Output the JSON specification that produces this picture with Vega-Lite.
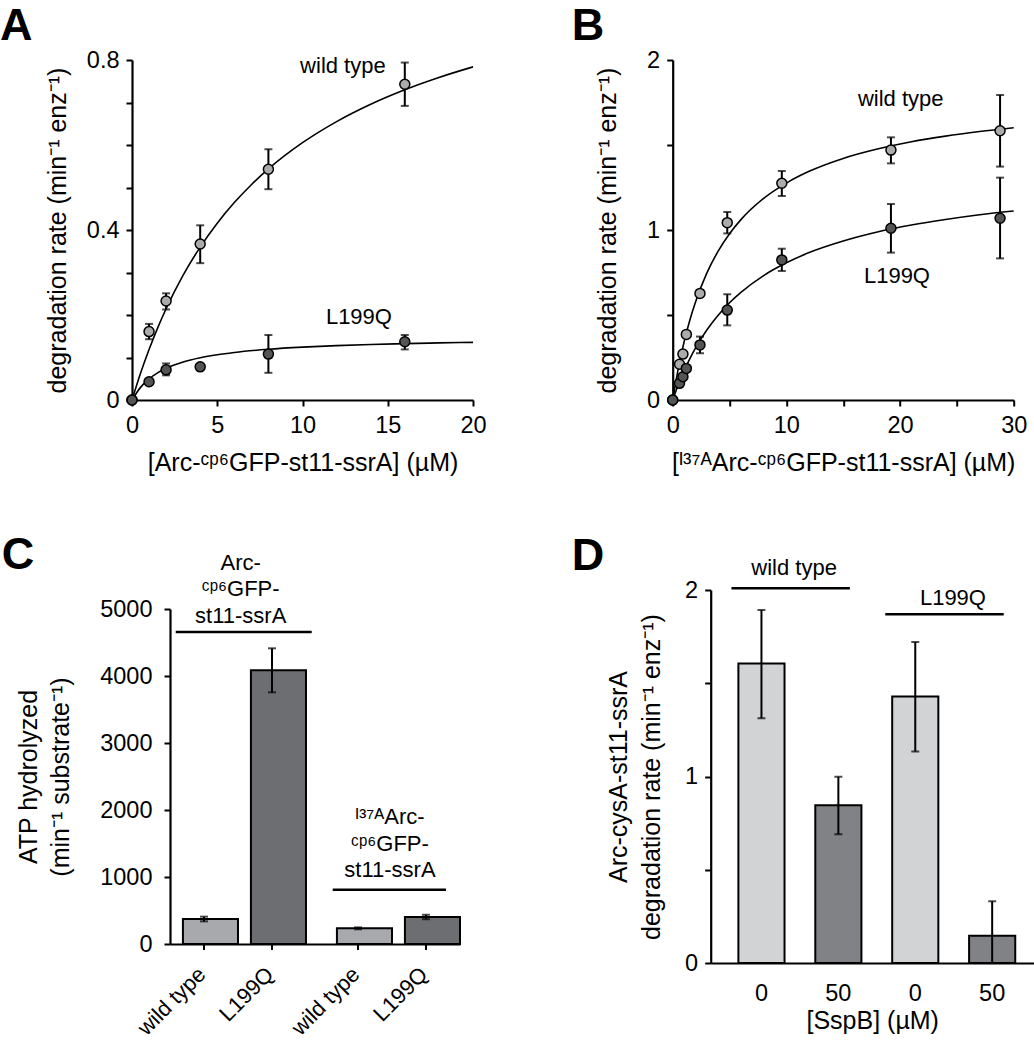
{
"$schema": "https://vega.github.io/schema/vega-lite/v6.json",
"padding": {"top": 4, "left": 0, "right": 0, "bottom": 0},
"background": "white",
"config": {
  "font": "Liberation Sans",
  "view": {"stroke": null},
  "axis": {"domainColor": "black", "domainWidth": 2.2, "tickColor": "black", "tickWidth": 2, "tickSize": 6, "labelFont": "Liberation Sans", "labelFontSize": 23.5, "labelColor": "black", "titleFont": "Liberation Sans", "titleFontSize": 25, "titleFontWeight": "normal", "titleColor": "black", "grid": false, "labelFlush": false, "labelOverlap": false, "labelPadding": 7},
  "title": {"font": "Liberation Sans", "fontSize": 45, "fontWeight": "bold", "color": "black", "anchor": "start", "frame": "group", "baseline": "alphabetic"},
  "text": {"font": "Liberation Sans", "fontSize": 22, "color": "black"}
},
"datasets": {
  "curveA": [
    {"variant": "wild type", "conc": 0, "rate": 0}, {"variant": "wild type", "conc": 0.5, "rate": 0.0628}, {"variant": "wild type", "conc": 1, "rate": 0.1188}, {"variant": "wild type", "conc": 1.5, "rate": 0.1692}, {"variant": "wild type", "conc": 2, "rate": 0.2147}, {"variant": "wild type", "conc": 3, "rate": 0.2937}, {"variant": "wild type", "conc": 4, "rate": 0.3598}, {"variant": "wild type", "conc": 5, "rate": 0.4161}, {"variant": "wild type", "conc": 6, "rate": 0.4645}, {"variant": "wild type", "conc": 7, "rate": 0.5066}, {"variant": "wild type", "conc": 8, "rate": 0.5436}, {"variant": "wild type", "conc": 10, "rate": 0.6054}, {"variant": "wild type", "conc": 12, "rate": 0.6551}, {"variant": "wild type", "conc": 14, "rate": 0.6959}, {"variant": "wild type", "conc": 16, "rate": 0.73}, {"variant": "wild type", "conc": 18, "rate": 0.7589}, {"variant": "wild type", "conc": 20, "rate": 0.7838},
    {"variant": "L199Q", "conc": 0, "rate": 0}, {"variant": "L199Q", "conc": 0.5, "rate": 0.0297}, {"variant": "L199Q", "conc": 1, "rate": 0.0496}, {"variant": "L199Q", "conc": 1.5, "rate": 0.0638}, {"variant": "L199Q", "conc": 2, "rate": 0.0745}, {"variant": "L199Q", "conc": 3, "rate": 0.0894}, {"variant": "L199Q", "conc": 4, "rate": 0.0994}, {"variant": "L199Q", "conc": 5, "rate": 0.1065}, {"variant": "L199Q", "conc": 6, "rate": 0.1118}, {"variant": "L199Q", "conc": 8, "rate": 0.1193}, {"variant": "L199Q", "conc": 10, "rate": 0.1243}, {"variant": "L199Q", "conc": 12, "rate": 0.1279}, {"variant": "L199Q", "conc": 14, "rate": 0.1306}, {"variant": "L199Q", "conc": 16, "rate": 0.1326}, {"variant": "L199Q", "conc": 18, "rate": 0.1343}, {"variant": "L199Q", "conc": 20, "rate": 0.1357}
  ],
  "pointsA": [
    {"variant": "wild type", "conc": 0, "rate": 0, "lo": 0, "hi": 0}, {"variant": "wild type", "conc": 1, "rate": 0.161, "lo": 0.143, "hi": 0.179}, {"variant": "wild type", "conc": 2, "rate": 0.233, "lo": 0.213, "hi": 0.251}, {"variant": "wild type", "conc": 4, "rate": 0.367, "lo": 0.322, "hi": 0.411}, {"variant": "wild type", "conc": 8, "rate": 0.543, "lo": 0.496, "hi": 0.59}, {"variant": "wild type", "conc": 16, "rate": 0.743, "lo": 0.692, "hi": 0.794},
    {"variant": "L199Q", "conc": 0, "rate": 0, "lo": 0, "hi": 0}, {"variant": "L199Q", "conc": 1, "rate": 0.043, "lo": 0.043, "hi": 0.043}, {"variant": "L199Q", "conc": 2, "rate": 0.071, "lo": 0.058, "hi": 0.086}, {"variant": "L199Q", "conc": 4, "rate": 0.078, "lo": 0.078, "hi": 0.078}, {"variant": "L199Q", "conc": 8, "rate": 0.108, "lo": 0.064, "hi": 0.153}, {"variant": "L199Q", "conc": 16, "rate": 0.137, "lo": 0.119, "hi": 0.153}
  ],
  "curveB": [
    {"variant": "wild type", "conc": 0, "rate": 0}, {"variant": "wild type", "conc": 0.5, "rate": 0.188}, {"variant": "wild type", "conc": 1, "rate": 0.341}, {"variant": "wild type", "conc": 1.5, "rate": 0.468}, {"variant": "wild type", "conc": 2, "rate": 0.575}, {"variant": "wild type", "conc": 3, "rate": 0.746}, {"variant": "wild type", "conc": 4, "rate": 0.876}, {"variant": "wild type", "conc": 5, "rate": 0.978}, {"variant": "wild type", "conc": 6, "rate": 1.061}, {"variant": "wild type", "conc": 8, "rate": 1.186}, {"variant": "wild type", "conc": 10, "rate": 1.276}, {"variant": "wild type", "conc": 12, "rate": 1.345}, {"variant": "wild type", "conc": 15, "rate": 1.421}, {"variant": "wild type", "conc": 18, "rate": 1.476}, {"variant": "wild type", "conc": 21, "rate": 1.519}, {"variant": "wild type", "conc": 24, "rate": 1.552}, {"variant": "wild type", "conc": 27, "rate": 1.579}, {"variant": "wild type", "conc": 30, "rate": 1.602},
    {"variant": "L199Q", "conc": 0, "rate": 0}, {"variant": "L199Q", "conc": 0.5, "rate": 0.0915}, {"variant": "L199Q", "conc": 1, "rate": 0.1715}, {"variant": "L199Q", "conc": 1.5, "rate": 0.242}, {"variant": "L199Q", "conc": 2, "rate": 0.305}, {"variant": "L199Q", "conc": 3, "rate": 0.412}, {"variant": "L199Q", "conc": 4, "rate": 0.499}, {"variant": "L199Q", "conc": 5, "rate": 0.572}, {"variant": "L199Q", "conc": 6, "rate": 0.633}, {"variant": "L199Q", "conc": 8, "rate": 0.732}, {"variant": "L199Q", "conc": 10, "rate": 0.807}, {"variant": "L199Q", "conc": 12, "rate": 0.867}, {"variant": "L199Q", "conc": 15, "rate": 0.935}, {"variant": "L199Q", "conc": 18, "rate": 0.988}, {"variant": "L199Q", "conc": 21, "rate": 1.029}, {"variant": "L199Q", "conc": 24, "rate": 1.062}, {"variant": "L199Q", "conc": 27, "rate": 1.09}, {"variant": "L199Q", "conc": 30, "rate": 1.112}
  ],
  "pointsB": [
    {"variant": "wild type", "conc": 0, "rate": 0, "lo": 0, "hi": 0}, {"variant": "wild type", "conc": 0.6, "rate": 0.21, "lo": 0.21, "hi": 0.21}, {"variant": "wild type", "conc": 0.9, "rate": 0.27, "lo": 0.27, "hi": 0.27}, {"variant": "wild type", "conc": 1.2, "rate": 0.386, "lo": 0.386, "hi": 0.386}, {"variant": "wild type", "conc": 2.4, "rate": 0.627, "lo": 0.607, "hi": 0.647}, {"variant": "wild type", "conc": 4.8, "rate": 1.043, "lo": 0.98, "hi": 1.106}, {"variant": "wild type", "conc": 9.6, "rate": 1.275, "lo": 1.2, "hi": 1.347}, {"variant": "wild type", "conc": 19.2, "rate": 1.47, "lo": 1.392, "hi": 1.545}, {"variant": "wild type", "conc": 28.8, "rate": 1.584, "lo": 1.373, "hi": 1.794},
    {"variant": "L199Q", "conc": 0, "rate": 0, "lo": 0, "hi": 0}, {"variant": "L199Q", "conc": 0.6, "rate": 0.098, "lo": 0.098, "hi": 0.098}, {"variant": "L199Q", "conc": 0.9, "rate": 0.137, "lo": 0.137, "hi": 0.137}, {"variant": "L199Q", "conc": 1.2, "rate": 0.186, "lo": 0.186, "hi": 0.186}, {"variant": "L199Q", "conc": 2.4, "rate": 0.324, "lo": 0.275, "hi": 0.373}, {"variant": "L199Q", "conc": 4.8, "rate": 0.529, "lo": 0.439, "hi": 0.622}, {"variant": "L199Q", "conc": 9.6, "rate": 0.824, "lo": 0.759, "hi": 0.89}, {"variant": "L199Q", "conc": 19.2, "rate": 1.01, "lo": 0.867, "hi": 1.153}, {"variant": "L199Q", "conc": 28.8, "rate": 1.069, "lo": 0.833, "hi": 1.308}
  ],
  "barsC": [
    {"construct": "Arc", "variant": "wild type", "rate": 373, "lo": 338, "hi": 408},
    {"construct": "Arc", "variant": "L199Q", "rate": 4085, "lo": 3756, "hi": 4413},
    {"construct": "I37A", "variant": "wild type", "rate": 234, "lo": 220, "hi": 248},
    {"construct": "I37A", "variant": "L199Q", "rate": 403, "lo": 370, "hi": 436}
  ],
  "barsD": [
    {"bar": "wild type|0", "genotype": "wild type", "sspb": 0, "rate": 1.606, "lo": 1.313, "hi": 1.893},
    {"bar": "wild type|50", "genotype": "wild type", "sspb": 50, "rate": 0.846, "lo": 0.691, "hi": 0.998},
    {"bar": "L199Q|0", "genotype": "L199Q", "sspb": 0, "rate": 1.429, "lo": 1.134, "hi": 1.721},
    {"bar": "L199Q|50", "genotype": "L199Q", "sspb": 50, "rate": 0.146, "lo": -0.039, "hi": 0.331}
  ]
},
"spacing": 57,
"vconcat": [
  {
    "bounds": "flush",
    "spacing": 199.7,
    "hconcat": [
      {
        "width": 341, "height": 340,
        "title": {"text": "A", "dx": -132, "offset": -1},
        "layer": [
          {"data": {"name": "curveA"}, "mark": {"type": "line", "color": "black", "strokeWidth": 1.6, "interpolate": "monotone"},
           "encoding": {
             "x": {"field": "conc", "type": "quantitative", "scale": {"domain": [0, 20], "nice": false}, "axis": {"values": [0, 5, 10, 15, 20], "title": "[Arc-ᶜᵖ⁶GFP-st11-ssrA] (µM)", "titlePadding": 14}},
             "y": {"field": "rate", "type": "quantitative", "scale": {"domain": [0, 0.8], "nice": false}, "axis": {"values": [0, 0.1, 0.2, 0.3, 0.4, 0.5, 0.6, 0.7, 0.8], "format": "~g", "labelExpr": "datum.value == 0 || datum.value == 0.4 || datum.value == 0.8 ? datum.label : ''", "title": "degradation rate (min⁻¹ enz⁻¹)", "titlePadding": 16}},
             "detail": {"field": "variant"}}},
          {"data": {"name": "pointsA"}, "mark": {"type": "rule", "color": "black", "strokeWidth": 2},
           "encoding": {"x": {"field": "conc", "type": "quantitative"}, "y": {"field": "lo", "type": "quantitative"}, "y2": {"field": "hi"}}},
          {"data": {"name": "pointsA"}, "mark": {"type": "tick", "orient": "horizontal", "color": "black", "size": 8, "thickness": 2},
           "encoding": {"x": {"field": "conc", "type": "quantitative"}, "y": {"field": "hi", "type": "quantitative"}}},
          {"data": {"name": "pointsA"}, "mark": {"type": "tick", "orient": "horizontal", "color": "black", "size": 8, "thickness": 2},
           "encoding": {"x": {"field": "conc", "type": "quantitative"}, "y": {"field": "lo", "type": "quantitative"}}},
          {"data": {"name": "pointsA"}, "mark": {"type": "circle", "size": 100, "stroke": "black", "strokeWidth": 1.5, "opacity": 1},
           "encoding": {"x": {"field": "conc", "type": "quantitative"}, "y": {"field": "rate", "type": "quantitative"},
             "fill": {"condition": {"test": "datum.variant == 'wild type'", "value": "#ababab"}, "value": "#545454"}}},
          {"data": {"values": [{}]}, "mark": {"type": "text", "align": "center", "baseline": "alphabetic"}, "encoding": {"x": {"datum": 12.37}, "y": {"datum": 0.769}, "text": {"value": "wild type"}}},
          {"data": {"values": [{}]}, "mark": {"type": "text", "align": "center", "baseline": "alphabetic"}, "encoding": {"x": {"datum": 13.31}, "y": {"datum": 0.18}, "text": {"value": "L199Q"}}}
        ]
      },
      {
        "width": 341, "height": 340,
        "title": {"text": "B", "dx": -101, "offset": -1},
        "layer": [
          {"data": {"name": "curveB"}, "mark": {"type": "line", "color": "black", "strokeWidth": 1.6, "interpolate": "monotone"},
           "encoding": {
             "x": {"field": "conc", "type": "quantitative", "scale": {"domain": [0, 30], "nice": false}, "axis": {"values": [0, 5, 10, 15, 20, 25, 30], "labelExpr": "datum.value % 10 == 0 ? datum.label : ''", "title": "[ᴵ³⁷ᴬArc-ᶜᵖ⁶GFP-st11-ssrA] (µM)", "titlePadding": 14}},
             "y": {"field": "rate", "type": "quantitative", "scale": {"domain": [0, 2], "nice": false}, "axis": {"values": [0, 0.5, 1, 1.5, 2], "format": "~g", "labelExpr": "datum.value % 1 == 0 ? datum.label : ''", "title": "degradation rate (min⁻¹ enz⁻¹)", "titlePadding": 26}},
             "detail": {"field": "variant"}}},
          {"data": {"name": "pointsB"}, "mark": {"type": "rule", "color": "black", "strokeWidth": 2},
           "encoding": {"x": {"field": "conc", "type": "quantitative"}, "y": {"field": "lo", "type": "quantitative"}, "y2": {"field": "hi"}}},
          {"data": {"name": "pointsB"}, "mark": {"type": "tick", "orient": "horizontal", "color": "black", "size": 8, "thickness": 2},
           "encoding": {"x": {"field": "conc", "type": "quantitative"}, "y": {"field": "hi", "type": "quantitative"}}},
          {"data": {"name": "pointsB"}, "mark": {"type": "tick", "orient": "horizontal", "color": "black", "size": 8, "thickness": 2},
           "encoding": {"x": {"field": "conc", "type": "quantitative"}, "y": {"field": "lo", "type": "quantitative"}}},
          {"data": {"name": "pointsB"}, "mark": {"type": "circle", "size": 100, "stroke": "black", "strokeWidth": 1.5, "opacity": 1},
           "encoding": {"x": {"field": "conc", "type": "quantitative"}, "y": {"field": "rate", "type": "quantitative"},
             "fill": {"condition": {"test": "datum.variant == 'wild type'", "value": "#ababab"}, "value": "#545454"}}},
          {"data": {"values": [{}]}, "mark": {"type": "text", "align": "center", "baseline": "alphabetic"}, "encoding": {"x": {"datum": 20.06}, "y": {"datum": 1.73}, "text": {"value": "wild type"}}},
          {"data": {"values": [{}]}, "mark": {"type": "text", "align": "center", "baseline": "alphabetic"}, "encoding": {"x": {"datum": 19.73}, "y": {"datum": 0.69}, "text": {"value": "L199Q"}}}
        ]
      }
    ]
  },
  {
    "bounds": "flush",
    "center": true,
    "spacing": 250.7,
    "hconcat": [
      {
        "width": 328, "height": 335,
        "title": {"text": "C", "dx": -130.3, "offset": -26.5},
        "layer": [
          {"data": {"name": "barsC"}, "mark": {"type": "bar", "stroke": "black", "strokeWidth": 2, "width": {"band": 0.81}},
           "encoding": {
             "x": {"field": "construct", "type": "nominal", "scale": {"domain": ["Arc", "I37A"], "range": [38, 328], "paddingInner": 0.117, "paddingOuter": 0}, "axis": {"labels": false, "title": null, "ticks": false}},
             "xOffset": {"field": "variant", "type": "nominal", "scale": {"domain": ["wild type", "L199Q"], "paddingInner": 0, "paddingOuter": 0}},
             "y": {"field": "rate", "type": "quantitative", "scale": {"domain": [0, 5000], "nice": false}, "axis": {"offset": -38, "values": [0, 1000, 2000, 3000, 4000, 5000], "format": "d", "labelPadding": 12, "title": ["ATP hydrolyzed", "(min⁻¹ substrate⁻¹)"], "titleLineHeight": 32, "titlePadding": 26}},
             "fill": {"condition": {"test": "datum.variant == 'wild type'", "value": "#a7a9ac"}, "value": "#6d6e71"}}},
          {"data": {"name": "barsC"}, "mark": {"type": "rule", "color": "black", "strokeWidth": 2},
           "encoding": {"x": {"field": "construct", "type": "nominal", "bandPosition": 0}, "xOffset": {"field": "variant", "type": "nominal"}, "y": {"datum": 0}, "y2": {"datum": -90}}},
          {"data": {"name": "barsC"}, "transform": [{"filter": "datum.variant == 'L199Q'"}], "mark": {"type": "rule", "color": "black", "strokeWidth": 2},
           "encoding": {"x": {"field": "construct", "type": "nominal", "bandPosition": 1}, "xOffset": {"field": "variant", "type": "nominal"}, "y": {"datum": 0}, "y2": {"datum": -90}}},
          {"data": {"name": "barsC"}, "mark": {"type": "rule", "color": "black", "strokeWidth": 2},
           "encoding": {"x": {"field": "construct", "type": "nominal"}, "xOffset": {"field": "variant", "type": "nominal"}, "y": {"field": "lo", "type": "quantitative"}, "y2": {"field": "hi"}}},
          {"data": {"name": "barsC"}, "mark": {"type": "tick", "orient": "horizontal", "color": "black", "size": 8, "thickness": 2},
           "encoding": {"x": {"field": "construct", "type": "nominal"}, "xOffset": {"field": "variant", "type": "nominal"}, "y": {"field": "hi", "type": "quantitative"}}},
          {"data": {"name": "barsC"}, "mark": {"type": "tick", "orient": "horizontal", "color": "black", "size": 8, "thickness": 2},
           "encoding": {"x": {"field": "construct", "type": "nominal"}, "xOffset": {"field": "variant", "type": "nominal"}, "y": {"field": "lo", "type": "quantitative"}}},
          {"data": {"name": "barsC"}, "mark": {"type": "text", "align": "right", "baseline": "middle", "dx": -20.5, "dy": 17.7, "fontSize": 22},
           "encoding": {"x": {"field": "construct", "type": "nominal"}, "xOffset": {"field": "variant", "type": "nominal"}, "y": {"datum": 0}, "text": {"field": "variant"}, "angle": {"value": -45}}},
          {"data": {"values": [{}]}, "mark": {"type": "rule", "color": "black", "strokeWidth": 2.5},
           "encoding": {"x": {"datum": "Arc", "type": "nominal", "bandPosition": 0.042}, "x2": {"datum": "Arc", "bandPosition": 1.042}, "y": {"datum": 4657}}},
          {"data": {"values": [{}]}, "mark": {"type": "rule", "color": "black", "strokeWidth": 2.5},
           "encoding": {"x": {"datum": "I37A", "type": "nominal", "bandPosition": 0.064}, "x2": {"datum": "I37A", "bandPosition": 0.897}, "y": {"datum": 811}}},
          {"data": {"values": [{}]}, "mark": {"type": "text", "align": "center", "baseline": "alphabetic", "lineBreak": "\n", "lineHeight": 26.7},
           "encoding": {"x": {"datum": "Arc", "type": "nominal", "bandPosition": 0.52}, "y": {"datum": 5587}, "text": {"value": "Arc-\nᶜᵖ⁶GFP-\nst11-ssrA"}}},
          {"data": {"values": [{}]}, "mark": {"type": "text", "align": "center", "baseline": "alphabetic", "lineBreak": "\n", "lineHeight": 26.7},
           "encoding": {"x": {"datum": "I37A", "type": "nominal", "bandPosition": 0.485}, "y": {"datum": 1791}, "text": {"value": "ᴵ³⁷ᴬArc-\nᶜᵖ⁶GFP-\nst11-ssrA"}}}
        ]
      },
      {
        "width": 323, "height": 373,
        "title": {"text": "D", "dx": -139, "offset": -21.6},
        "layer": [
          {"data": {"name": "barsD"}, "mark": {"type": "bar", "stroke": "black", "strokeWidth": 2},
           "encoding": {
             "x": {"field": "bar", "type": "nominal", "scale": {"domain": ["wild type|0", "wild type|50", "L199Q|0", "L199Q|50"], "paddingInner": 0.4, "paddingOuter": 0.3, "align": 0.6}, "axis": {"ticks": false, "labelAngle": 0, "labelPadding": 18, "labelExpr": "split(datum.label, '|')[1]", "title": "[SspB] (µM)", "titlePadding": 4}},
             "y": {"field": "rate", "type": "quantitative", "scale": {"domain": [0, 2], "nice": false}, "axis": {"values": [0, 0.5, 1, 1.5, 2], "format": "~g", "labelExpr": "datum.value % 1 == 0 ? datum.label : ''", "title": ["Arc-cysA-st11-ssrA", "degradation rate (min⁻¹ enz⁻¹)"], "titleLineHeight": 33, "titlePadding": 20}},
             "fill": {"condition": {"test": "datum.sspb == 0", "value": "#d1d3d4"}, "value": "#808285"}}},
          {"data": {"name": "barsD"}, "mark": {"type": "rule", "color": "black", "strokeWidth": 2, "clip": true},
           "encoding": {"x": {"field": "bar", "type": "nominal"}, "y": {"field": "lo", "type": "quantitative"}, "y2": {"field": "hi"}}},
          {"data": {"name": "barsD"}, "mark": {"type": "tick", "orient": "horizontal", "color": "black", "size": 8, "thickness": 2, "clip": true},
           "encoding": {"x": {"field": "bar", "type": "nominal"}, "y": {"field": "hi", "type": "quantitative"}}},
          {"data": {"name": "barsD"}, "mark": {"type": "tick", "orient": "horizontal", "color": "black", "size": 8, "thickness": 2, "clip": true},
           "encoding": {"x": {"field": "bar", "type": "nominal"}, "y": {"field": "lo", "type": "quantitative"}}},
          {"data": {"values": [{}]}, "mark": {"type": "rule", "color": "black", "strokeWidth": 2.5},
           "encoding": {"x": {"datum": "wild type|0", "type": "nominal", "bandPosition": -0.15}, "x2": {"datum": "wild type|50", "bandPosition": 0.75}, "y": {"datum": 2.009}}},
          {"data": {"values": [{}]}, "mark": {"type": "rule", "color": "black", "strokeWidth": 2.5},
           "encoding": {"x": {"datum": "L199Q|0", "type": "nominal", "bandPosition": -0.15}, "x2": {"datum": "L199Q|50", "bandPosition": 0.75}, "y": {"datum": 1.87}}},
          {"data": {"values": [{}]}, "mark": {"type": "text", "align": "center", "baseline": "alphabetic"},
           "encoding": {"x": {"datum": "wild type|50", "type": "nominal", "bandPosition": -0.46}, "y": {"datum": 2.079}, "text": {"value": "wild type"}}},
          {"data": {"values": [{}]}, "mark": {"type": "text", "align": "center", "baseline": "alphabetic"},
           "encoding": {"x": {"datum": "L199Q|50", "type": "nominal", "bandPosition": -0.35}, "y": {"datum": 1.918}, "text": {"value": "L199Q"}}}
        ]
      }
    ]
  }
]
}
